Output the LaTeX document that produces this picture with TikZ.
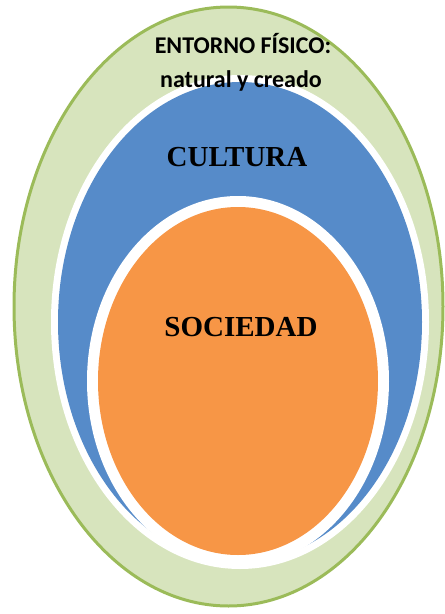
\documentclass[tikz,border=0pt]{standalone}
\usepackage{fontspec}
\setmainfont{Liberation Serif}
\newfontfamily\calib{Carlito}
\definecolor{envfill}{RGB}{215,228,189}
\definecolor{envline}{RGB}{155,187,89}
\definecolor{cultfill}{RGB}{86,139,201}
\definecolor{socfill}{RGB}{247,150,70}
\tikzset{
  envtext/.style={font=\calib\bfseries\fontsize{24}{28}\selectfont, text=black, inner sep=0pt},
  bigtext/.style={font=\bfseries\fontsize{29}{33}\selectfont, text=black, inner sep=0pt}
}
\begin{document}
\begin{tikzpicture}[x=1pt,y=-1pt]
\useasboundingbox (0,0) rectangle (445,614);
% outer: physical environment
\path[fill=envfill, draw=envline, line width=3pt] (228.5,306.5) ellipse [x radius=214.5, y radius=299.5];
% culture
\path[fill=white] (240,322) ellipse [x radius=189, y radius=247];
\path[fill=cultfill] (240,322) ellipse [x radius=182, y radius=240];
% society
\path[fill=white] (238,381) ellipse [x radius=151, y radius=185];
\path[fill=socfill] (238,381) ellipse [x radius=140, y radius=174];
% labels
\node[envtext] (env1) at (243,43) {ENTORNO FÍSICO:};
\node[envtext] (env2) at (241,81) {natural y creado};
\node[bigtext] (cult) at (237,157) {CULTURA};
\node[bigtext] (soc) at (241,327) {SOCIEDAD};
\end{tikzpicture}
\end{document}
